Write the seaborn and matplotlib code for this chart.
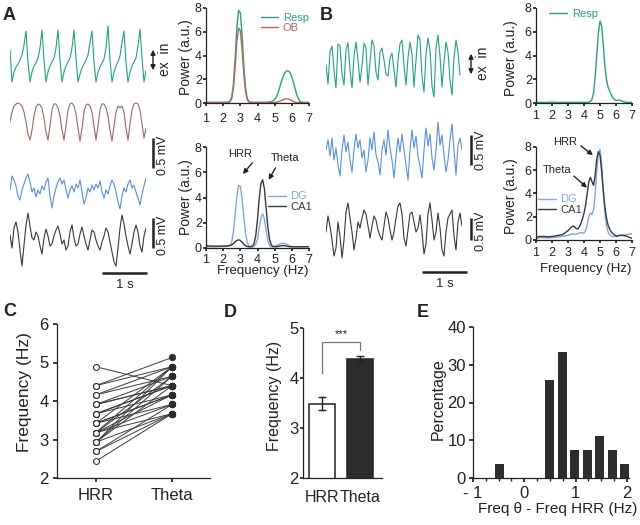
import numpy as np
import pandas as pd
import matplotlib
matplotlib.use("Agg")
import matplotlib.pyplot as plt
import seaborn as sns

# ======================= DATA =======================
# spectral sampling grid (Hz) shared by all power spectra
FREQ = np.linspace(1.0, 7.0, 61)

# ---- Panel A spectra ----
a_resp_power = [0.05, 0.05, 0.05, 0.05, 0.05, 0.05, 0.05, 0.05, 0.05, 0.05,
                0.05, 0.05, 0.06, 0.08, 0.15, 0.5, 1.6, 3.8, 6.4, 7.8,
                7.6, 5.8, 3.2, 1.3, 0.4, 0.12, 0.06, 0.05, 0.05, 0.05,
                0.05, 0.05, 0.05, 0.05, 0.05, 0.06, 0.07, 0.09, 0.12, 0.18,
                0.3, 0.5, 0.85, 1.35, 1.85, 2.25, 2.55, 2.7, 2.7, 2.55,
                2.2, 1.7, 1.15, 0.65, 0.3, 0.12, 0.07, 0.05, 0.05, 0.05,
                0.05]
a_ob_power = [0.04, 0.04, 0.04, 0.04, 0.04, 0.04, 0.04, 0.04, 0.04, 0.04,
              0.04, 0.04, 0.04, 0.05, 0.1, 0.35, 1.3, 3.1, 5.2, 6.3,
              6.1, 4.5, 2.5, 1.0, 0.3, 0.08, 0.04, 0.04, 0.04, 0.04,
              0.04, 0.04, 0.04, 0.04, 0.04, 0.04, 0.04, 0.04, 0.04, 0.04,
              0.04, 0.06, 0.1, 0.16, 0.22, 0.28, 0.33, 0.35, 0.33, 0.28,
              0.2, 0.12, 0.07, 0.04, 0.04, 0.04, 0.04, 0.04, 0.04, 0.04,
              0.04]
a_dg_power = [0.1, 0.1, 0.1, 0.1, 0.1, 0.1, 0.1, 0.1, 0.12, 0.12,
              0.12, 0.12, 0.14, 0.16, 0.2, 0.5, 1.3, 2.7, 4.1, 4.95,
              4.9, 3.9, 2.5, 1.2, 0.45, 0.15, 0.08, 0.08, 0.12, 0.3,
              0.7, 1.6, 2.4, 2.7, 2.3, 1.4, 0.6, 0.2, 0.08, 0.1,
              0.14, 0.2, 0.26, 0.32, 0.36, 0.37, 0.35, 0.3, 0.22, 0.15,
              0.12, 0.1, 0.1, 0.1, 0.1, 0.1, 0.1, 0.1, 0.1, 0.1,
              0.1]
a_ca1_power = [0.2, 0.18, 0.16, 0.15, 0.15, 0.15, 0.15, 0.15, 0.15, 0.15,
               0.15, 0.15, 0.16, 0.18, 0.2, 0.25, 0.35, 0.5, 0.6, 0.65,
               0.6, 0.45, 0.3, 0.18, 0.12, 0.1, 0.1, 0.15, 0.35, 1.0,
               2.3, 3.9, 5.1, 5.4, 4.7, 3.2, 1.7, 0.7, 0.25, 0.12,
               0.1, 0.1, 0.12, 0.15, 0.18, 0.2, 0.18, 0.15, 0.12, 0.1,
               0.1, 0.1, 0.1, 0.1, 0.1, 0.1, 0.1, 0.1, 0.1, 0.1,
               0.1]

# ---- Panel B spectra ----
b_resp_power = [0.05, 0.05, 0.05, 0.05, 0.05, 0.05, 0.05, 0.05, 0.05, 0.06,
                0.08, 0.06, 0.05, 0.05, 0.05, 0.05, 0.05, 0.05, 0.05, 0.05,
                0.05, 0.05, 0.05, 0.05, 0.05, 0.05, 0.05, 0.05, 0.05, 0.05,
                0.05, 0.05, 0.05, 0.07, 0.12, 0.3, 0.9, 2.2, 4.1, 5.9,
                6.9, 6.5, 5.0, 3.2, 2.0, 1.35, 1.0, 0.7, 0.45, 0.3,
                0.22, 0.22, 0.25, 0.22, 0.15, 0.1, 0.07, 0.05, 0.05, 0.05,
                0.05]
b_dg_power = [0.1, 0.15, 0.2, 0.2, 0.22, 0.2, 0.2, 0.18, 0.2, 0.2,
              0.22, 0.22, 0.25, 0.25, 0.28, 0.3, 0.3, 0.32, 0.35, 0.38,
              0.4, 0.45, 0.5, 0.55, 0.5, 0.5, 0.55, 0.6, 0.65, 0.6,
              0.6, 0.8, 1.3, 2.0, 2.3, 2.2, 2.6, 4.0, 6.0, 7.4,
              7.8, 6.6, 4.4, 2.5, 1.3, 0.7, 0.45, 0.35, 0.3, 0.3,
              0.3, 0.32, 0.35, 0.38, 0.4, 0.42, 0.45, 0.48, 0.5, 0.52,
              0.55]
b_ca1_power = [0.2, 0.25, 0.3, 0.3, 0.3, 0.3, 0.3, 0.28, 0.28, 0.3,
               0.3, 0.32, 0.35, 0.38, 0.4, 0.42, 0.45, 0.5, 0.6, 0.7,
               0.8, 0.95, 1.1, 1.2, 1.15, 1.0, 0.95, 1.1, 1.4, 1.8,
               2.3, 3.0, 4.0, 5.0, 5.4, 5.0, 4.7, 5.6, 7.0, 7.6,
               7.3, 6.0, 4.3, 2.9, 1.9, 1.3, 0.95, 0.7, 0.55, 0.45,
               0.35, 0.35, 0.4, 0.42, 0.4, 0.38, 0.35, 0.3, 0.25, 0.2,
               0.15]

# ---- Raw traces (display depth units, sampled every DT s) ----
a_resp_trace = [50, 82, 72, 67, 64, 60, 55, 45, 31, 62,
                82, 72, 66, 63, 58, 48, 30, 60, 82, 72,
                66, 62, 58, 48, 30, 60, 82, 72, 66, 62,
                58, 48, 30, 58, 82, 74, 68, 64, 60, 55,
                42, 31, 62, 82, 72, 67, 63, 59, 48, 26,
                60, 82, 72, 66, 62, 56, 42, 31, 62, 82,
                72, 66, 62, 58, 46, 29, 58, 82, 70]
a_ob_trace = [122, 112, 106, 104, 103, 104, 106, 112, 122, 134,
              140, 130, 116, 107, 104, 105, 108, 118, 132, 140,
              126, 110, 104, 104, 108, 116, 130, 140, 126, 110,
              104, 103, 106, 114, 128, 141, 128, 112, 105, 104,
              106, 112, 126, 140, 126, 110, 104, 104, 108, 116,
              130, 141, 126, 112, 106, 108, 106, 112, 128, 140,
              124, 110, 104, 103, 104, 110, 124, 138, 128]
a_dg_trace = [190, 176, 180, 186, 196, 200, 190, 184, 178, 174,
              182, 192, 188, 197, 190, 194, 186, 190, 182, 178,
              196, 208, 196, 188, 182, 178, 184, 180, 190, 198,
              190, 186, 192, 184, 188, 180, 192, 204, 198, 188,
              192, 185, 190, 184, 188, 181, 192, 198, 190, 194,
              186, 180, 184, 192, 202, 209, 196, 188, 192, 184,
              180, 188, 185, 192, 198, 205, 194, 186, 178]
a_ca1_trace = [235, 248, 228, 222, 232, 250, 266, 245, 225, 213,
               226, 238, 240, 232, 236, 246, 254, 238, 229, 236,
               246, 244, 236, 230, 226, 234, 244, 240, 250, 246,
               232, 225, 238, 246, 244, 234, 227, 236, 244, 250,
               240, 230, 232, 240, 246, 250, 242, 236, 228, 232,
               242, 252, 262, 266, 248, 228, 215, 224, 236, 246,
               254, 244, 232, 225, 232, 246, 252, 236, 228]
b_resp_trace = [65, 84, 52, 46, 70, 88, 44, 46, 74, 85,
                50, 43, 70, 88, 56, 42, 60, 82, 66, 43,
                48, 85, 62, 40, 46, 72, 80, 52, 48, 60,
                74, 76, 58, 53, 70, 87, 60, 44, 40, 66,
                85, 58, 42, 54, 87, 60, 35, 40, 76, 92,
                54, 38, 50, 86, 97, 48, 35, 56, 87, 62,
                42, 52, 80, 95, 58, 40, 52, 75]
b_dg_trace = [150, 140, 156, 138, 160, 148, 165, 176, 150, 135,
              152, 142, 160, 172, 150, 134, 148, 140, 158, 150,
              172, 160, 138, 150, 132, 155, 162, 175, 150, 140,
              155, 130, 148, 160, 178, 156, 138, 152, 134, 150,
              165, 180, 150, 130, 148, 136, 156, 166, 178, 150,
              128, 146, 134, 158, 170, 150, 122, 145, 135, 155,
              172, 160, 140, 124, 150, 175, 145, 138, 150]
b_ca1_trace = [232, 216, 226, 240, 256, 248, 222, 236, 258, 240,
               212, 203, 218, 232, 250, 238, 222, 228, 218, 210,
               214, 226, 238, 226, 216, 220, 230, 236, 240, 226,
               212, 218, 230, 240, 232, 218, 206, 203, 214, 238,
               246, 230, 214, 212, 222, 232, 228, 215, 232, 254,
               244, 214, 203, 220, 240, 232, 213, 228, 250, 256,
               232, 218, 214, 210, 236, 250, 222, 213, 226]

# ---- Panel C: paired frequencies (Hz) ----
c_conditions = ["HRR", "Theta"]
c_hrr = [4.89, 4.16, 3.91, 3.67, 3.42, 3.18, 4.40, 3.91, 4.40, 4.16,
         3.91, 3.67, 3.42, 3.18, 2.93, 3.67, 3.42, 2.69, 3.18, 2.44,
         2.69, 2.93, 3.18, 3.42, 2.93, 3.18, 2.93]
c_theta = [4.40, 4.64, 4.40, 4.16, 3.91, 3.67, 4.89, 4.40, 5.13, 4.89,
           4.64, 4.40, 4.16, 3.91, 3.67, 4.40, 4.16, 3.67, 4.16, 3.67,
           3.91, 4.40, 4.64, 4.89, 4.64, 4.89, 4.89]

# ---- Panel D: mean +- SEM ----
d_labels = ["HRR", "Theta"]
d_means = [3.49, 4.39]
d_sem = [0.13, 0.06]

# ---- Panel E: histogram of differences ----
e_bins = [-0.49, 0.49, 0.735, 0.98, 1.225, 1.47, 1.715, 1.96]
e_pct = [3.7, 25.9, 33.3, 7.4, 7.4, 11.1, 7.4, 3.7]

# ======================= STYLE =======================
sns.set_theme(style="ticks")
plt.rcParams["font.family"] = ["Liberation Sans", "DejaVu Sans"]
plt.rcParams["axes.facecolor"] = "none"
plt.rcParams["axes.linewidth"] = 0.9
plt.rcParams["axes.edgecolor"] = "#222222"
plt.rcParams["xtick.color"] = "#222222"
plt.rcParams["ytick.color"] = "#222222"
plt.rcParams["text.color"] = "#222222"
plt.rcParams["axes.labelcolor"] = "#222222"

C_RESP = "#23a085"
C_RESP_SP = "#2b9e86"
C_OB = "#9a6a5e"
C_OB_SP = "#b06a58"
C_DG = "#5b8fd6"
C_DG_SP = "#7fa8dc"
C_CA1 = "#383838"
C_DARK = "#222222"

W, H = 640, 525
fig = plt.figure(figsize=(W / 100, H / 100), dpi=100)
fig.patch.set_facecolor("white")


def px_axes(l, t, r, b):
    return fig.add_axes([l / W, 1 - b / H, (r - l) / W, (b - t) / H])


# overlay in pixel coordinates for annotations / labels / scale bars
ov = fig.add_axes([0, 0, 1, 1])
ov.set_xlim(0, W)
ov.set_ylim(H, 0)
ov.axis("off")

# ======================= TRACES =======================
PX_PER_S = 45.0
DT = 2.0 / PX_PER_S


def draw_traces(x0, traces):
    ax = px_axes(x0, 0, x0 + 136, 290)
    for vals, color in traces:
        t = np.arange(len(vals)) * DT
        sns.lineplot(x=t, y=vals, ax=ax, color=color, lw=0.8,
                     estimator=None, sort=False)
    ax.set_xlim(0, 136 / PX_PER_S)
    ax.set_ylim(290, 0)
    ax.axis("off")


draw_traces(10, [(a_resp_trace, C_RESP), (a_ob_trace, C_OB),
                 (a_dg_trace, C_DG), (a_ca1_trace, C_CA1)])
draw_traces(326, [(b_resp_trace, C_RESP), (b_dg_trace, C_DG),
                  (b_ca1_trace, C_CA1)])

# scale bars and arrows
arrow_kw = dict(arrowstyle="<|-|>", color=C_DARK, lw=1.0, mutation_scale=7)
ov.annotate("", xy=(153, 47), xytext=(153, 73), arrowprops=arrow_kw)
ov.text(165, 59, "ex  in", rotation=90, ha="center", va="center", fontsize=10)
ov.annotate("", xy=(471, 51), xytext=(471, 77), arrowprops=arrow_kw)
ov.text(483, 63, "ex  in", rotation=90, ha="center", va="center", fontsize=10)

for x, y0, y1, ty in [(153, 138, 168, 155), (153, 218, 248, 235),
                      (471, 135, 165, 150), (471, 218, 240, 231)]:
    ov.plot([x, x], [y0, y1], color=C_DARK, lw=1.8, solid_capstyle="butt")
    ov.text(x + 10, ty, "0.5 mV", rotation=90, ha="center", va="center",
            fontsize=9)
for x0, y, ty in [(102, 273, 285), (422, 272, 284)]:
    ov.plot([x0, x0 + PX_PER_S], [y, y], color=C_DARK, lw=1.8,
            solid_capstyle="butt")
    ov.text(x0 + PX_PER_S / 2, ty, "1 s", ha="center", va="center",
            fontsize=9.5)

# ======================= SPECTRA =======================


def spectrum(box, curves, anchor, xpad):
    ax = px_axes(*box)
    for name, vals, color in curves:
        sns.lineplot(x=FREQ, y=vals, ax=ax, color=color, lw=1.0, label=name,
                     estimator=None)
    ax.set_xlim(1, 7)
    ax.set_ylim(0, 8)
    ax.set_xticks(range(1, 8))
    ax.set_yticks([0, 2, 4, 6, 8])
    ax.tick_params(axis="x", labelsize=9, length=2, pad=xpad)
    ax.tick_params(axis="y", labelsize=9, length=2, pad=1)
    ax.set_xlabel("")
    ax.set_ylabel("")
    sns.despine(ax=ax)
    ax.legend(loc="upper left", bbox_to_anchor=anchor, frameon=False,
              fontsize=8, handlelength=1.6, handletextpad=0.4,
              labelspacing=0.05, borderpad=0, borderaxespad=0,
              labelcolor="linecolor")
    return ax


axA1 = spectrum((206, 8, 309, 103), [("Resp", a_resp_power, C_RESP_SP),
                                     ("OB", a_ob_power, C_OB_SP)],
                (0.53, 0.95), 5)
axA2 = spectrum((206, 147, 309, 248), [("DG", a_dg_power, C_DG_SP),
                                       ("CA1", a_ca1_power, C_CA1)],
                (0.6, 0.56), 2)
axB1 = spectrum((536, 8, 632, 103), [("Resp", b_resp_power, C_RESP_SP)],
                (0.14, 0.99), 3)
axB2 = spectrum((536, 147, 632, 240), [("DG", b_dg_power, C_DG_SP),
                                       ("CA1", b_ca1_power, C_CA1)],
                (0.02, 0.49), 3)

for x, y in [(186, 57), (186, 197), (511, 58), (511, 196)]:
    ov.text(x, y, "Power (a.u.)", rotation=90, ha="center", va="center",
            fontsize=10)
for x, y in [(263, 271), (586, 269)]:
    ov.text(x, y, "Frequency (Hz)", ha="center", va="center", fontsize=9.5)

ann_arrow = dict(arrowstyle="-|>", color=C_DARK, lw=1.0, mutation_scale=7,
                 shrinkA=0, shrinkB=0)
axA2.text(3.0, 7.45, "HRR", ha="center", va="center", fontsize=8, clip_on=False)
axA2.annotate("", xy=(3.15, 5.86), xytext=(3.7, 6.75), arrowprops=ann_arrow)
axA2.text(5.6, 7.1, "Theta", ha="center", va="center", fontsize=8, clip_on=False)
axA2.annotate("", xy=(4.65, 5.4), xytext=(5.05, 6.35), arrowprops=ann_arrow)

axB2.text(2.8, 8.4, "HRR", ha="center", va="center", fontsize=8, clip_on=False)
axB2.annotate("", xy=(4.56, 7.3), xytext=(3.8, 8.1), arrowprops=ann_arrow,
              annotation_clip=False)
axB2.text(2.3, 6.0, "Theta", ha="center", va="center", fontsize=8, clip_on=False)
axB2.annotate("", xy=(4.19, 4.5), xytext=(3.37, 5.5), arrowprops=ann_arrow)

# ======================= PANEL C =======================
n = len(c_hrr)
dfC = pd.DataFrame({
    "subj": list(range(n)) * 2,
    "cond": [c_conditions[0]] * n + [c_conditions[1]] * n,
    "freq": c_hrr + c_theta,
})
dfC["pos"] = dfC["cond"].map({c: i for i, c in enumerate(c_conditions)})
axC = px_axes(57, 324, 210, 478)
sns.lineplot(data=dfC, x="pos", y="freq", units="subj", estimator=None,
             color="#3a3a3a", lw=0.7, ax=axC)
sns.scatterplot(data=dfC[dfC.cond == "HRR"], x="pos", y="freq", ax=axC,
                color="white", edgecolor="#333333", linewidth=0.8, s=18,
                zorder=3)
sns.scatterplot(data=dfC[dfC.cond == "Theta"], x="pos", y="freq", ax=axC,
                color="#2d2d2d", edgecolor="#2d2d2d", linewidth=0.5, s=22,
                zorder=3)
axC.set_xlim(-0.513, 1.5)
axC.set_ylim(2, 6)
axC.set_xticks([0, 1])
axC.set_xticklabels(c_conditions)
axC.set_yticks([2, 3, 4, 5, 6])
axC.tick_params(axis="x", labelsize=12, length=3, pad=4)
axC.tick_params(axis="y", labelsize=12, length=3, pad=3)
axC.set_xlabel("")
axC.set_ylabel("")
sns.despine(ax=axC)
ov.text(25, 392, "Frequency (Hz)", rotation=90, ha="center", va="center",
        fontsize=12.5)

# ======================= PANEL D =======================
axD = px_axes(303, 328, 382, 478)
dfD = pd.DataFrame({"band": d_labels, "freq": d_means})
sns.barplot(data=dfD, x="band", y="freq", hue="band",
            palette=["white", "#2d2d2d"], saturation=1, width=0.675,
            edgecolor="#222222", linewidth=1.1, errorbar=None, ax=axD,
            legend=False)
axD.errorbar(range(len(d_labels)), d_means, yerr=d_sem, fmt="none",
             ecolor="#222222", elinewidth=1.0, capsize=3, capthick=1.0)
axD.plot([0, 0, 1, 1], [4.11, 4.73, 4.73, 4.56], color="#777777", lw=0.9)
axD.text(0.5, 4.78, "***", ha="center", va="bottom", fontsize=8)
axD.set_xlim(-0.49, 1.56)
axD.set_ylim(2, 5)
axD.set_yticks([2, 3, 4, 5])
axD.tick_params(axis="x", labelsize=11.5, length=0, pad=9)
axD.tick_params(axis="y", labelsize=12, length=2, pad=1)
axD.set_xlabel("")
axD.set_ylabel("")
sns.despine(ax=axD)
ov.text(275, 396, "Frequency (Hz)", rotation=90, ha="center", va="center",
        fontsize=11.5)

# ======================= PANEL E =======================
axE = px_axes(473, 327, 629, 478)
sns.barplot(x=e_bins, y=e_pct, native_scale=True, width=0.72,
            color="#2d2d2d", saturation=1, errorbar=None, ax=axE,
            edgecolor="none")
axE.set_xlim(-1, 2.04)
axE.set_ylim(0, 40)
axE.set_xticks([-1, 0, 1, 2])
axE.set_xticklabels(["- 1", "0", "1", "2"])
axE.set_xticks(np.arange(-1, 2.01, 0.25), minor=True)
axE.set_yticks([0, 10, 20, 30, 40])
axE.tick_params(axis="x", which="major", labelsize=12, length=3, pad=3)
axE.tick_params(axis="x", which="minor", length=2)
axE.tick_params(axis="y", labelsize=12, length=3, pad=2)
axE.set_xlabel("")
axE.set_ylabel("")
sns.despine(ax=axE)
ov.text(438, 399, "Percentage", rotation=90, ha="center", va="center",
        fontsize=11.5)
ov.text(558, 509, "Freq \u03b8 - Freq HRR (Hz)", ha="center", va="center",
        fontsize=11)

# ======================= PANEL LETTERS =======================
for x, y, s in [(3, 20, "A"), (320, 20, "B"), (3, 316, "C"), (224, 317, "D"),
                (417, 317, "E")]:
    ov.text(x, y, s, fontsize=13, fontweight="bold", ha="left",
            va="baseline")

fig.savefig("out.png", dpi=100, facecolor="white")
